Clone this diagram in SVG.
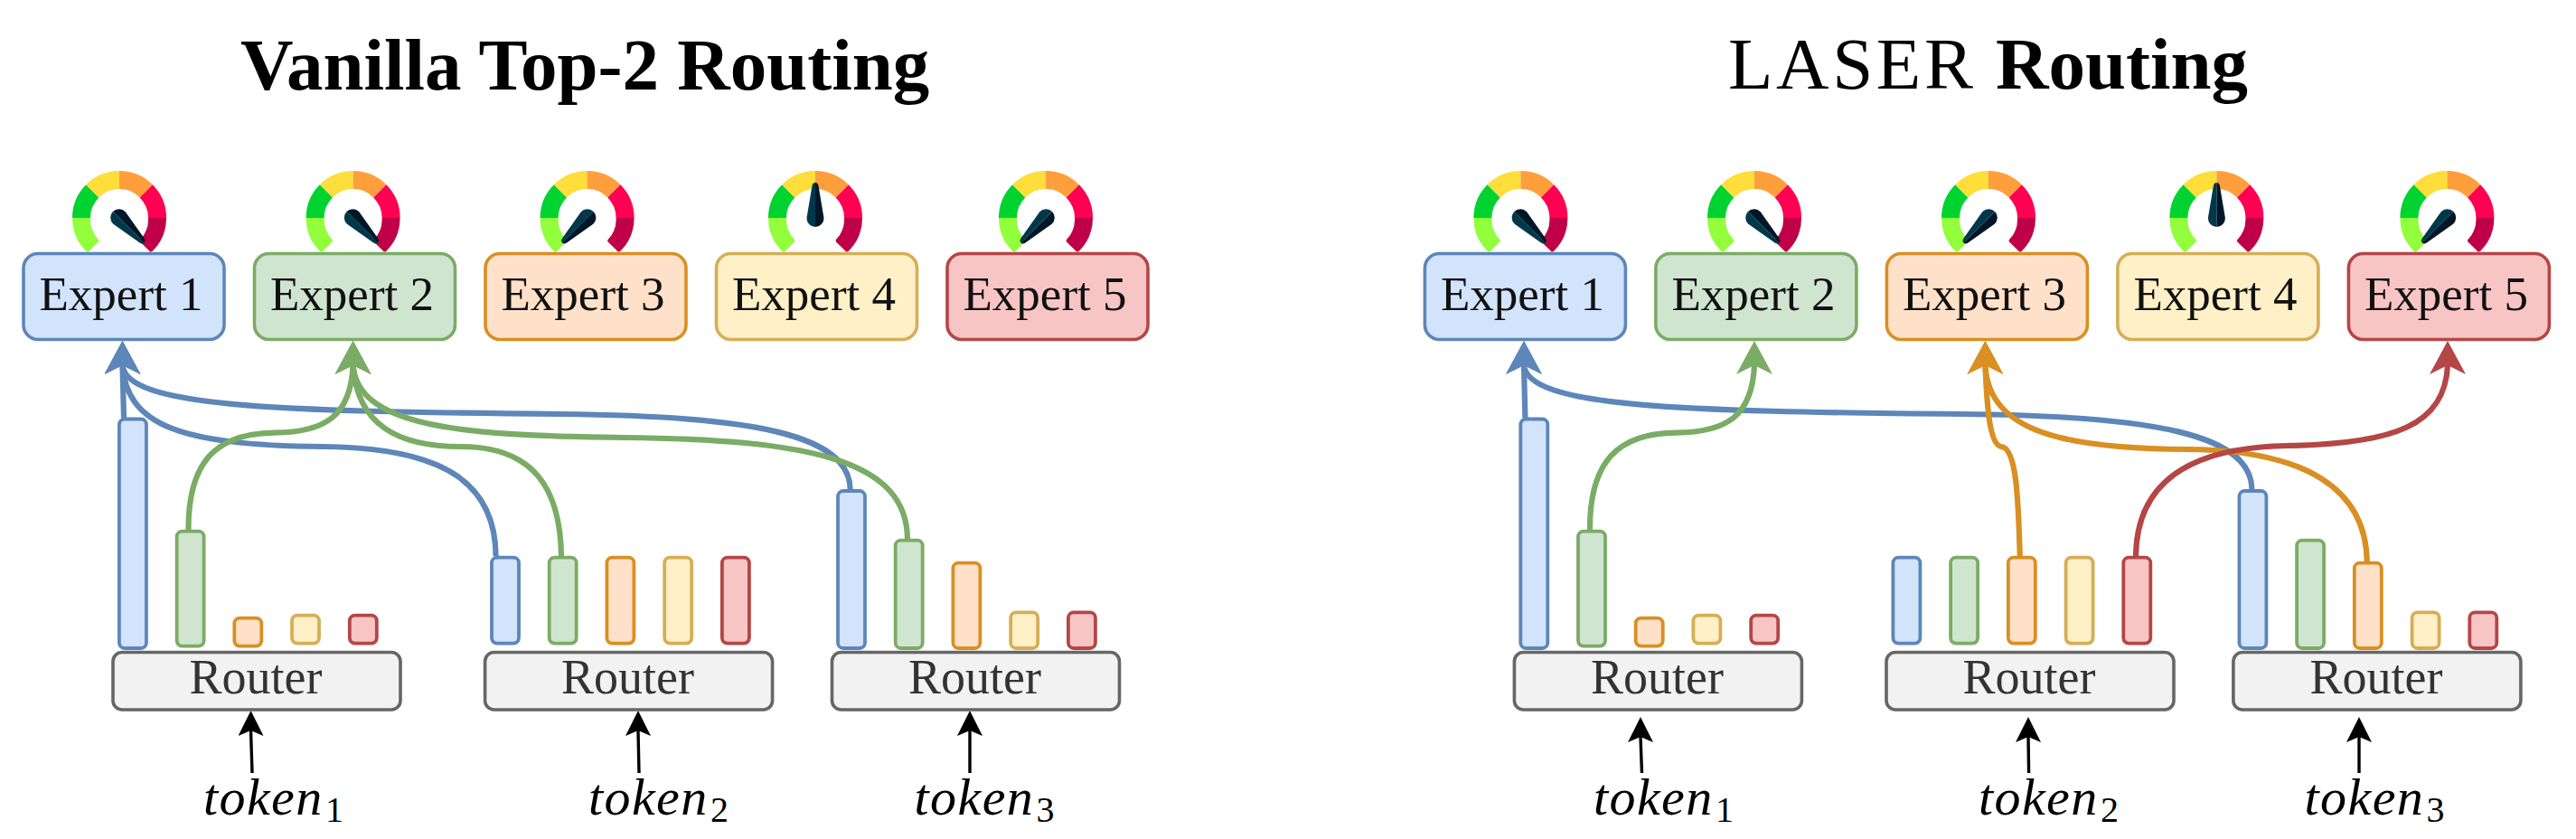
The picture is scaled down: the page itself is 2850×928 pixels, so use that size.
<svg xmlns="http://www.w3.org/2000/svg" width="2850" height="928" viewBox="0 0 2850 928">
<style>
text{font-family:"Liberation Serif","Times New Roman",serif;fill:#000}
.title{font-size:81px;font-weight:bold}
.tnorm{font-size:81px;letter-spacing:3.6px;font-weight:normal}
.exp{font-size:53px;text-anchor:middle;fill:#111}
.rt{font-size:54px;text-anchor:middle;fill:#333}
.tok{font-size:58px;font-style:italic;letter-spacing:1.4px}
.sub{font-size:40px;font-style:normal;letter-spacing:0}
.b{stroke-width:3.8}
.e{stroke-width:3.6}
.blue{fill:#d1e4fb;stroke:#5d86b9}
.green{fill:#d0e5d0;stroke:#7bac65}
.orange{fill:#ffe1c9;stroke:#d98f22}
.yellow{fill:#fff0c8;stroke:#d6ae57}
.red{fill:#f8c5c5;stroke:#b54646}
.router{fill:#f2f2f2;stroke:#666;stroke-width:3.6}
.c{fill:none;stroke-width:6.2}
.cb{stroke:#5d86b9;marker-end:url(#mb)}
.cg{stroke:#7bac65;marker-end:url(#mg)}
.co{stroke:#d98f22;marker-end:url(#mo)}
.cr{stroke:#b54646;marker-end:url(#mr)}
.ck{fill:none;stroke:#000;stroke-width:3.4;marker-end:url(#mk)}
</style>
<defs>
<marker id="mb" markerUnits="userSpaceOnUse" viewBox="0 0 37 40" refX="10" refY="20" markerWidth="37" markerHeight="40" orient="-90"><path d="M37 20L0 0L10 20L0 40Z" fill="#5d86b9"/></marker>
<marker id="mg" markerUnits="userSpaceOnUse" viewBox="0 0 37 40" refX="10" refY="20" markerWidth="37" markerHeight="40" orient="-90"><path d="M37 20L0 0L10 20L0 40Z" fill="#7bac65"/></marker>
<marker id="mo" markerUnits="userSpaceOnUse" viewBox="0 0 37 40" refX="10" refY="20" markerWidth="37" markerHeight="40" orient="-90"><path d="M37 20L0 0L10 20L0 40Z" fill="#d98f22"/></marker>
<marker id="mr" markerUnits="userSpaceOnUse" viewBox="0 0 37 40" refX="10" refY="20" markerWidth="37" markerHeight="40" orient="-90"><path d="M37 20L0 0L10 20L0 40Z" fill="#b54646"/></marker>
<marker id="mk" markerUnits="userSpaceOnUse" viewBox="0 0 28 28" refX="6" refY="14" markerWidth="28" markerHeight="28" orient="-90"><path d="M28 14L0 0L6 14L0 28Z" fill="#000"/></marker>
<g id="dial">
<path d="M-52 0A52 52 0 0 0-36.8 36.8L-34.5 37.8L-23.5 27Q-22 25.5-23 24A32 32 0 0 1-32 0Z" fill="#92fe3c"/>
<path d="M-52 0A52 52 0 0 1-36.8-36.8L-22.6-22.6A32 32 0 0 0-32 0Z" fill="#00d32f"/>
<path d="M-36.8-36.8A52 52 0 0 1 0-52L0-32A32 32 0 0 0-22.6-22.6Z" fill="#ffdd3a"/>
<path d="M0-52A52 52 0 0 1 36.8-36.8L22.6-22.6A32 32 0 0 0 0-32Z" fill="#ff9f3c"/>
<path d="M36.8-36.8A52 52 0 0 1 52 0L32 0A32 32 0 0 0 22.6-22.6Z" fill="#ff0052"/>
<path d="M52 0A52 52 0 0 1 36.8 36.8L34.5 37.8L23.5 27Q22 25.5 23 24A32 32 0 0 0 32 0Z" fill="#bf0048"/>
</g>
<g id="needle">
<path d="M0-39Q-3-39-3.6-35L-9.5 0A9.7 9.7 0 0 0 0 10Z" fill="#00384b"/>
<path d="M0-39Q3-39 3.6-35L9.5 0A9.7 9.7 0 0 1 0 10Z" fill="#001729"/>
</g>
<g id="gauge-r"><use href="#dial"/><use href="#needle" transform="rotate(135) scale(-1,1)"/></g>
<g id="gauge-l"><use href="#dial"/><use href="#needle" transform="rotate(-135) scale(-1,1)"/></g>
<g id="gauge-u"><use href="#dial"/><use href="#needle"/></g>
</defs>
<rect width="2850" height="928" fill="#fff"/>

<text class="title" x="266" y="99">Vanilla Top-2 Routing</text>
<text class="tnorm" x="1912" y="98">LASER</text>
<text class="title" x="2208" y="98">Routing</text>

<g id="left-bars">
<rect class="blue b" x="131.9" y="463.5" width="30" height="253.5" rx="6"/>
<rect class="green b" x="195.6" y="587.6" width="30" height="127" rx="6"/>
<rect class="orange b" x="259.3" y="683.6" width="30" height="31" rx="6"/>
<rect class="yellow b" x="323" y="680.6" width="30" height="31" rx="6"/>
<rect class="red b" x="386.8" y="680.6" width="30" height="31" rx="6"/>
<rect class="blue b" x="544" y="616.6" width="30" height="95" rx="6"/>
<rect class="green b" x="607.7" y="616.6" width="30" height="95" rx="6"/>
<rect class="orange b" x="671.4" y="616.6" width="30" height="95" rx="6"/>
<rect class="yellow b" x="735.2" y="616.6" width="30" height="95" rx="6"/>
<rect class="red b" x="798.9" y="616.6" width="30" height="95" rx="6"/>
<rect class="blue b" x="927" y="543" width="30" height="174" rx="6"/>
<rect class="green b" x="990.7" y="597.6" width="30" height="119.4" rx="6"/>
<rect class="orange b" x="1054.4" y="622.6" width="30" height="94.4" rx="6"/>
<rect class="yellow b" x="1118.2" y="677.3" width="30" height="39.7" rx="6"/>
<rect class="red b" x="1181.9" y="677.3" width="30" height="39.7" rx="6"/>
</g>
<g id="right-bars" transform="translate(1550.4,0)">
<rect class="blue b" x="131.9" y="463.5" width="30" height="253.5" rx="6"/>
<rect class="green b" x="195.6" y="587.6" width="30" height="127" rx="6"/>
<rect class="orange b" x="259.3" y="683.6" width="30" height="31" rx="6"/>
<rect class="yellow b" x="323" y="680.6" width="30" height="31" rx="6"/>
<rect class="red b" x="386.8" y="680.6" width="30" height="31" rx="6"/>
<rect class="blue b" x="544" y="616.6" width="30" height="95" rx="6"/>
<rect class="green b" x="607.7" y="616.6" width="30" height="95" rx="6"/>
<rect class="orange b" x="671.4" y="616.6" width="30" height="95" rx="6"/>
<rect class="yellow b" x="735.2" y="616.6" width="30" height="95" rx="6"/>
<rect class="red b" x="798.9" y="616.6" width="30" height="95" rx="6"/>
<rect class="blue b" x="927" y="543" width="30" height="174" rx="6"/>
<rect class="green b" x="990.7" y="597.6" width="30" height="119.4" rx="6"/>
<rect class="orange b" x="1054.4" y="622.6" width="30" height="94.4" rx="6"/>
<rect class="yellow b" x="1118.2" y="677.3" width="30" height="39.7" rx="6"/>
<rect class="red b" x="1181.9" y="677.3" width="30" height="39.7" rx="6"/>
</g>

<g id="connectors">
<path class="c cb" d="M137 462L135.5 404"/>
<path class="c cb" d="M548.6 615C548 540 500 495 357 494C200 493 140 470 135.5 404"/>
<path class="c cb" d="M940.6 541C940 480 830 460 620 458C300 455 140 450 135.5 404"/>
<path class="c cg" d="M208.5 586C208 510 240 479 304 478.6C360 478 388 460 390.6 404"/>
<path class="c cg" d="M621 615C620 540 590 494 510 494C440 494 395 470 390.6 404"/>
<path class="c cg" d="M1004 596C1003 510 900 486 690 484C500 482 396 470 390.6 404"/>
<path class="ck" d="M279 855L277.5 808"/>
<path class="ck" d="M707 855L706 808"/>
<path class="ck" d="M1073 855L1073 808"/>

<path class="c cb" d="M1687.4 462L1686 404"/>
<path class="c cb" d="M2491.4 541C2490.8 480 2380.8 460 2170.8 458C1850.8 455 1690.8 450 1686 404"/>
<path class="c cg" d="M1759 586C1758.5 510 1790.5 479 1854.5 478.6C1910.5 478 1938.5 460 1941 404"/>
<path class="c co" d="M2234.8 615C2233 560 2232 495 2214 494C2200 492 2198 440 2196.4 404"/>
<path class="c co" d="M2618.8 622C2618 540 2550 498 2420 497C2290 496 2200 480 2196.4 404"/>
<path class="c cr" d="M2363 615C2364 535 2420 495 2530 493C2650 491 2705 470 2708 404"/>
<path class="ck" d="M1816.5 855L1815 815"/>
<path class="ck" d="M2244.6 855L2244 815"/>
<path class="ck" d="M2610 855L2610 815"/>
</g>

<g id="left-gauges">
<use href="#gauge-r" x="132" y="241"/>
<use href="#gauge-r" x="390.6" y="241"/>
<use href="#gauge-l" x="649.6" y="241"/>
<use href="#gauge-u" x="902" y="241"/>
<use href="#gauge-l" x="1157" y="241"/>
</g>
<g id="right-gauges">
<use href="#gauge-r" x="1682.4" y="241"/>
<use href="#gauge-r" x="1941" y="241"/>
<use href="#gauge-l" x="2200" y="241"/>
<use href="#gauge-u" x="2452.4" y="241"/>
<use href="#gauge-l" x="2707.4" y="241"/>
</g>

<g id="l-expert-1"><rect class="blue e" x="26" y="280.5" width="222" height="95" rx="16"/><text class="exp" x="134" y="343">Expert 1</text></g>
<g id="l-expert-2"><rect class="green e" x="281.5" y="280.5" width="222" height="95" rx="16"/><text class="exp" x="389.5" y="343">Expert 2</text></g>
<g id="l-expert-3"><rect class="orange e" x="537" y="280.5" width="222" height="95" rx="16"/><text class="exp" x="645" y="343">Expert 3</text></g>
<g id="l-expert-4"><rect class="yellow e" x="792.5" y="280.5" width="222" height="95" rx="16"/><text class="exp" x="900.5" y="343">Expert 4</text></g>
<g id="l-expert-5"><rect class="red e" x="1048" y="280.5" width="222" height="95" rx="16"/><text class="exp" x="1156" y="343">Expert 5</text></g>
<g id="r-expert-1"><rect class="blue e" x="1576.4" y="280.5" width="222" height="95" rx="16"/><text class="exp" x="1684.4" y="343">Expert 1</text></g>
<g id="r-expert-2"><rect class="green e" x="1831.9" y="280.5" width="222" height="95" rx="16"/><text class="exp" x="1939.9" y="343">Expert 2</text></g>
<g id="r-expert-3"><rect class="orange e" x="2087.4" y="280.5" width="222" height="95" rx="16"/><text class="exp" x="2195.4" y="343">Expert 3</text></g>
<g id="r-expert-4"><rect class="yellow e" x="2342.9" y="280.5" width="222" height="95" rx="16"/><text class="exp" x="2450.9" y="343">Expert 4</text></g>
<g id="r-expert-5"><rect class="red e" x="2598.4" y="280.5" width="222" height="95" rx="16"/><text class="exp" x="2706.4" y="343">Expert 5</text></g>

<g id="l-router-1"><rect class="router" x="125" y="721.5" width="318" height="63.5" rx="10"/><text class="rt" x="283" y="767">Router</text></g>
<g id="l-router-2"><rect class="router" x="536.6" y="721.5" width="318" height="63.5" rx="10"/><text class="rt" x="694.6" y="767">Router</text></g>
<g id="l-router-3"><rect class="router" x="920.5" y="721.5" width="318" height="63.5" rx="10"/><text class="rt" x="1078.5" y="767">Router</text></g>
<g id="r-router-1"><rect class="router" x="1675.4" y="721.5" width="318" height="63.5" rx="10"/><text class="rt" x="1833.4" y="767">Router</text></g>
<g id="r-router-2"><rect class="router" x="2087" y="721.5" width="318" height="63.5" rx="10"/><text class="rt" x="2245" y="767">Router</text></g>
<g id="r-router-3"><rect class="router" x="2470.9" y="721.5" width="318" height="63.5" rx="10"/><text class="rt" x="2628.9" y="767">Router</text></g>

<g id="l-token-1"><text class="tok" x="225" y="901">token<tspan class="sub" x="360" y="909">1</tspan></text></g>
<g id="l-token-2"><text class="tok" x="651" y="901">token<tspan class="sub" x="786" y="909">2</tspan></text></g>
<g id="l-token-3"><text class="tok" x="1011.6" y="901">token<tspan class="sub" x="1146.6" y="909">3</tspan></text></g>
<g id="r-token-1"><text class="tok" x="1763" y="901">token<tspan class="sub" x="1898" y="909">1</tspan></text></g>
<g id="r-token-2"><text class="tok" x="2189" y="901">token<tspan class="sub" x="2324" y="909">2</tspan></text></g>
<g id="r-token-3"><text class="tok" x="2549.6" y="901">token<tspan class="sub" x="2684.6" y="909">3</tspan></text></g>
</svg>
